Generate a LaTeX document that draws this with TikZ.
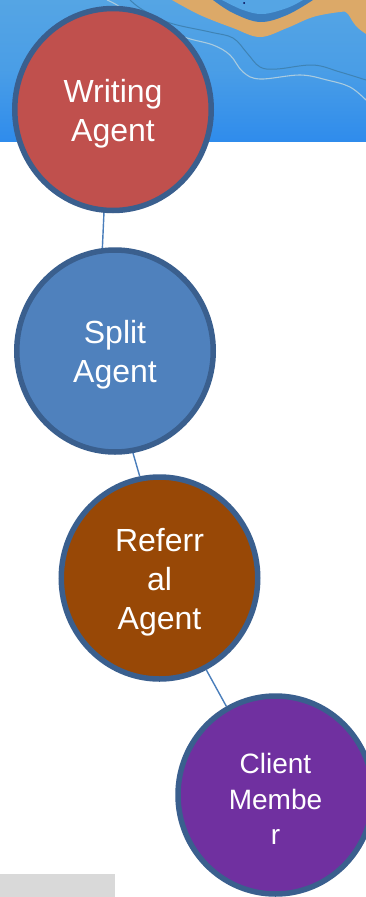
\documentclass[tikz,border=0pt]{standalone}
\usepackage{fontspec}
\setmainfont{Liberation Sans}
\usetikzlibrary{shapes.geometric}
\definecolor{ringblue}{HTML}{3A5F8E}
\definecolor{skytop}{HTML}{55A5E4}
\definecolor{skybot}{HTML}{2F8CEC}
\definecolor{sand}{HTML}{DCA968}
\definecolor{river}{HTML}{3B7DBD}
\definecolor{linkblue}{HTML}{4A7EBB}
\definecolor{streamdark}{HTML}{3F83B4}
\definecolor{streamlight}{HTML}{A9CBDF}
\definecolor{writefill}{HTML}{C0504D}
\definecolor{splitfill}{HTML}{4F81BD}
\definecolor{reffill}{HTML}{984806}
\definecolor{clientfill}{HTML}{7030A0}
\newcommand{\lift}[1]{\rule{0pt}{#1}}
\tikzset{
  agent/.style={ellipse,draw=ringblue,line width=5.5pt,text=white,align=center,inner sep=0pt,
    minimum width=196.5pt,minimum height=202pt},
  big/.style={font=\fontsize{32}{39}\selectfont},
  small/.style={font=\fontsize{28}{35.5}\selectfont},
  link/.style={draw=linkblue,line width=1.4pt}
}
\begin{document}
\begin{tikzpicture}[x=1pt,y=-1pt]
\useasboundingbox (0,0) rectangle (366,897);
\clip (0,0) rectangle (366,897);
\fill[white] (0,0) rectangle (366,897);
\shade[top color=skytop,bottom color=skybot,middle color=skytop!70!skybot] (0,0) rectangle (366,141);
% sand bank
\fill[sand] plot[smooth,tension=0.6] coordinates {(172,0) (200,15) (233,28) (260,37) (287,28) (313,17) (340,12) (347,13) (353,22) (358,28) (366,34)} -- (366,0) -- cycle;
\fill[river] plot[smooth,tension=0.6] coordinates {(213,0) (233,13) (260,22) (287,15) (313,0)} -- cycle;
\fill[skytop] plot[smooth,tension=0.6] coordinates {(222,0) (243,10) (263,14) (287,8) (303,0)} -- cycle;
\fill[black!70!blue] (244,3) circle (1pt);
% thin streams
\draw[streamdark,line width=1pt] plot[smooth,tension=0.6] coordinates {(130,0) (143,10) (170,23) (210,32) (233,38) (247,53) (260,67) (277,69) (313,65) (340,72) (366,80)};
\draw[streamlight,line width=1.1pt] plot[smooth,tension=0.6] coordinates {(107,0) (117,5) (150,25) (187,38) (213,45) (230,55) (243,72) (260,79) (300,75) (327,80) (350,87) (366,100)};
% grey band
\fill[black!15] (0,874) rectangle (115,897);
\node[agent,big,fill=writefill] (w) at (113,109.5) {\lift{31pt}Writing\\Agent};
\node[agent,big,fill=splitfill] (s) at (115,351) {\lift{31pt}Split\\Agent};
\node[agent,big,fill=reffill] (r) at (159.5,578) {\lift{31pt}Referr\\al\\Agent};
\node[agent,small,fill=clientfill,minimum width=195pt,minimum height=198pt] (c) at (275.5,795) {\lift{28pt}Client\\Membe\\r};
\draw[link] (w.-95) -- (s.97);
\draw[link] (s.-80) -- (r.101);
\draw[link] (r.-63) -- (c.119);
\end{tikzpicture}
\end{document}
